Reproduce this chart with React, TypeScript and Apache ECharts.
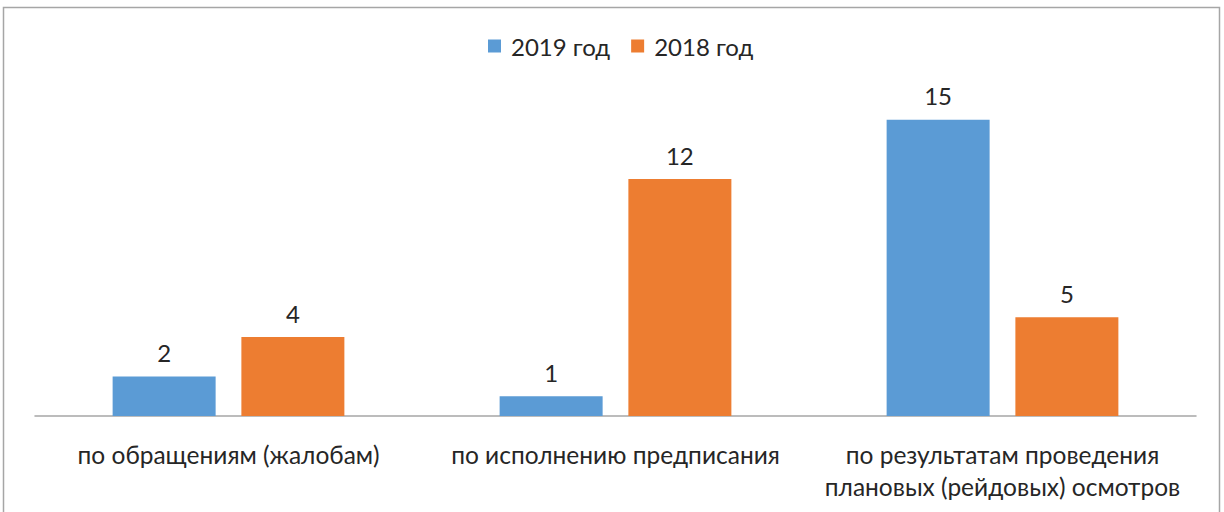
import React, { useEffect, useRef } from "react";
import * as echarts from "echarts";

const categories = [
  "по обращениям (жалобам)",
  "по исполнению предписания",
  "по результатам проведения\nплановых (рейдовых) осмотров",
];
const seriesNames = ["2019 год", "2018 год"];
const values2019 = [2, 1, 15];
const values2018 = [4, 12, 5];

const FONT = "Lato, 'Open Sans', sans-serif";

export default function App() {
  const ref = useRef<HTMLDivElement>(null);
  useEffect(() => {
    if (!ref.current) return;
    const chart = echarts.init(ref.current, null, { renderer: "svg" });
    chart.setOption({
      animation: false,
      backgroundColor: "#ffffff",
      graphic: [
        {
          type: "rect",
          shape: { x: 3.5, y: 7.5, width: 1216, height: 530 },
          style: { fill: "none", stroke: "#a6a6a6", lineWidth: 1.5 },
          silent: true,
        },
      ],
      legend: {
        data: seriesNames,
        left: 483,
        top: 29,
        itemWidth: 13,
        itemHeight: 13,
        itemGap: 21,
        icon: "rect",
        textStyle: {
          fontFamily: FONT,
          fontSize: 24,
          color: "#262626",
          padding: [0, 0, 0, 5],
        },
      },
      grid: { left: 35, right: 28, top: 21, bottom: 96, containLabel: false },
      xAxis: {
        type: "category",
        data: categories,
        axisLine: { show: true, lineStyle: { color: "#a6a6a6", width: 1.5 } },
        axisTick: { show: false },
        axisLabel: {
          interval: 0,
          margin: 22,
          fontFamily: FONT,
          fontSize: 24.5,
          lineHeight: 32,
          color: "#262626",
        },
      },
      yAxis: {
        type: "value",
        min: 0,
        max: 20,
        show: false,
        splitLine: { show: false },
      },
      series: [
        {
          name: seriesNames[0],
          type: "bar",
          data: values2019,
          barWidth: 103,
          barGap: "25%",
          itemStyle: { color: "#5b9bd5" },
          label: {
            show: true,
            position: "top",
            distance: 12,
            fontFamily: FONT,
            fontSize: 24,
            color: "#262626",
          },
        },
        {
          name: seriesNames[1],
          type: "bar",
          data: values2018,
          barWidth: 103,
          itemStyle: { color: "#ed7d31" },
          label: {
            show: true,
            position: "top",
            distance: 12,
            fontFamily: FONT,
            fontSize: 24,
            color: "#262626",
          },
        },
      ],
    });
    return () => chart.dispose();
  }, []);
  return (
    <div
      ref={ref}
      style={{ position: "fixed", left: 0, top: 0, width: 1224, height: 512 }}
    />
  );
}
